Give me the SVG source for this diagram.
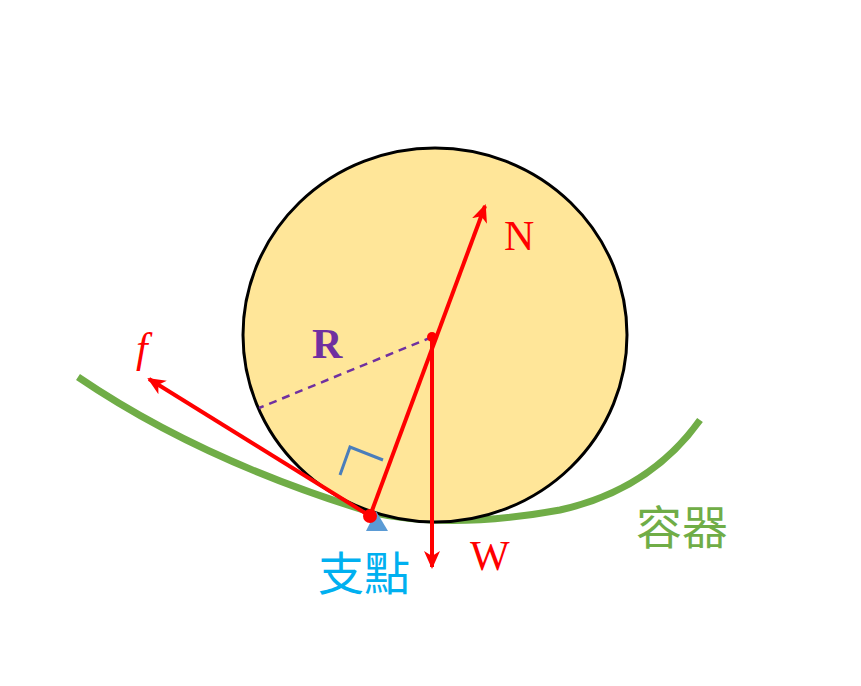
<svg xmlns="http://www.w3.org/2000/svg" width="861" height="686" viewBox="0 0 861 686">
<defs>
<marker id="ah" markerWidth="18" markerHeight="16" refX="16" refY="8" orient="auto" markerUnits="userSpaceOnUse"><path d="M0,0 L18,8 L0,16 L5,8 Z" fill="#FF0000"/></marker>
<style>
.v{stroke:#FF0000;stroke-width:4;fill:none}
.lbl{font-family:"Liberation Serif",serif;font-size:42px;fill:#FF0000}
.cjk{font-family:"Noto Sans CJK TC",sans-serif;font-size:46px}
</style>
</defs>
<rect width="861" height="686" fill="#fff"/>
<g id="container"><path d="M78,377 Q200,460 370,512 Q450,530 560,510 Q650,490 700,420" fill="none" stroke="#70AD47" stroke-width="7"/></g>
<g id="ball"><ellipse cx="435" cy="335" rx="192" ry="187" fill="#FFE699" stroke="#000" stroke-width="3"/></g>
<g id="radius"><line x1="432" y1="337" x2="259" y2="408" stroke="#7030A0" stroke-width="2.5" stroke-dasharray="8,6"/>
<path d="M340,475 L350,447 L383,460" fill="none" stroke="#4A7EBB" stroke-width="3"/></g>
<g id="connectors">
<line class="v" x1="370" y1="516" x2="485" y2="206" marker-end="url(#ah)"/>
<line class="v" x1="432" y1="337" x2="432" y2="567" stroke-width="3" marker-end="url(#ah)"/>
<line class="v" x1="370" y1="516" x2="149" y2="379" marker-end="url(#ah)"/>
</g>
<g id="pivot"><path d="M376,511 L366,531 L388,531 Z" fill="#5B9BD5"/><circle cx="370" cy="516" r="7" fill="#FF0000"/><circle cx="432" cy="337" r="5" fill="#FF0000"/></g>
<g id="labels">
<text class="lbl" x="504" y="250">N</text>
<text class="lbl" x="470" y="570">W</text>
<text class="lbl" x="136" y="362" font-style="italic">f</text>
<text x="312" y="358" font-family="Liberation Serif,serif" font-size="42" font-weight="bold" fill="#7030A0">R</text>
<text class="cjk" x="318" y="590" fill="#00B0F0">支點</text>
<text class="cjk" x="636" y="544" fill="#70AD47">容器</text>
</g>
</svg>
